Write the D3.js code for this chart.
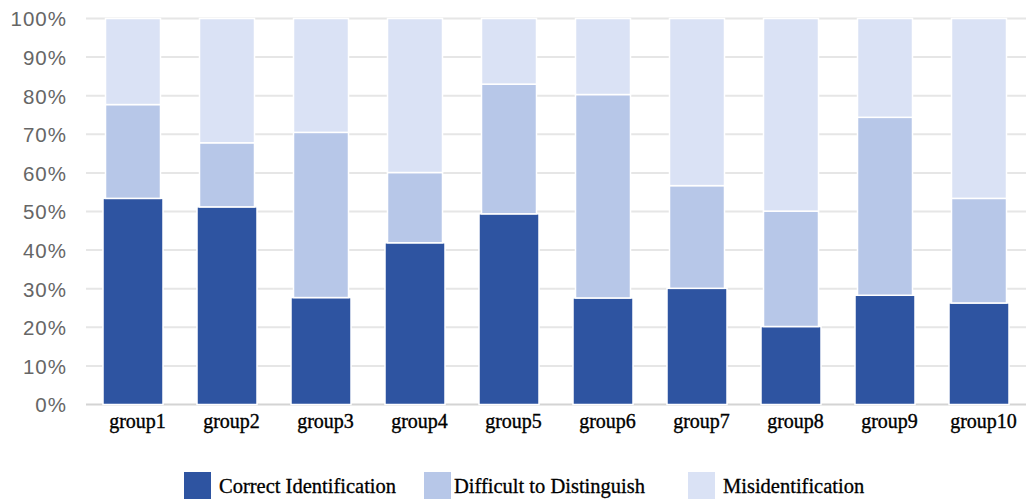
<!DOCTYPE html>
<html>
<head>
<meta charset="utf-8">
<script src="https://cdn.jsdelivr.net/npm/d3@7"></script>
<style>
  html, body { margin: 0; padding: 0; background: #fff; }
  svg { display: block; }
</style>
</head>
<body>
<svg id="chart" width="1026" height="500"></svg>
<script>
const categories = ["group1","group2","group3","group4","group5","group6","group7","group8","group9","group10"];
const seriesNames = ["Correct Identification","Difficult to Distinguish","Misidentification"];
const correct   = [53.4, 51.2, 27.7, 41.9, 49.4, 27.6, 30.1, 20.2, 28.3, 26.3];
const difficult = [24.3, 16.6, 42.8, 18.2, 33.6, 52.7, 26.6, 29.9, 46.1, 27.1];
const misid     = [22.3, 32.2, 29.5, 39.9, 17.0, 19.7, 43.3, 49.9, 25.6, 46.6];
const yTicks = [0, 10, 20, 30, 40, 50, 60, 70, 80, 90, 100];
const colors = ["#2e54a1", "#b7c7e8", "#dae2f5"];

const svg = d3.select("#chart");
const rows = categories.map((c, i) => ({ cat: c, "Correct Identification": correct[i], "Difficult to Distinguish": difficult[i], "Misidentification": misid[i] }));
const stacked = d3.stack().keys(seriesNames)(rows);

const x = d3.scaleBand().domain(categories).range([86, 1026]).paddingInner(0.415).paddingOuter(0.2075);
const y = d3.scaleLinear().domain([0, 100]).range([404.5, 18.5]);

// gridlines
svg.append("g").selectAll("line").data(yTicks).join("line")
  .attr("x1", 86).attr("x2", 1026)
  .attr("y1", d => y(d)).attr("y2", d => y(d))
  .attr("stroke", d => d === 0 ? "#d4d4d4" : "#e6e6e6")
  .attr("stroke-width", 2);

// y axis labels
const yAxis = d3.axisLeft(y).tickValues(yTicks).tickFormat(d => d + "%").tickSize(0).tickPadding(0);
const yg = svg.append("g").attr("transform", "translate(67,0)").call(yAxis);
yg.select(".domain").remove();
yg.selectAll("text").attr("font-family", "Liberation Sans, Arial, sans-serif").attr("font-size", 20.5)
  .attr("letter-spacing", "1px").attr("fill", "#666").attr("dy", "0.36em");

// bars
const layers = svg.append("g").selectAll("g").data(stacked).join("g")
  .attr("fill", (d, i) => colors[i]);
layers.selectAll("rect").data((d, li) => d.map(v => ({ v, li }))).join("rect")
  .attr("x", d => x(d.v.data.cat) - (d.li === 0 ? 2.5 : 0))
  .attr("width", d => x.bandwidth() + (d.li === 0 ? 5 : 0))
  .attr("y", d => y(d.v[1]))
  .attr("height", d => y(d.v[0]) - y(d.v[1]))
  .attr("stroke", "#fff")
  .attr("stroke-width", 1.5);

// x axis labels
const xAxis = d3.axisBottom(x).tickSize(0).tickPadding(0);
const xg = svg.append("g").attr("transform", "translate(0,428)").call(xAxis);
xg.select(".domain").remove();
xg.selectAll("text").attr("font-family", "Liberation Serif, Times New Roman, serif").attr("font-size", 20)
  .attr("fill", "#000").attr("stroke", "#000").attr("stroke-width", 0.35).attr("dx", 4.5).attr("dy", 0);

// legend
const legendSquareX = [184, 424, 688];
const legendTextX = [219, 454, 723];
const legend = svg.append("g");
seriesNames.forEach((name, i) => {
  legend.append("rect").attr("x", legendSquareX[i]).attr("y", 472).attr("width", 27).attr("height", 27).attr("fill", colors[i]);
  legend.append("text").attr("x", legendTextX[i]).attr("y", 493)
    .attr("font-family", "Liberation Serif, Times New Roman, serif").attr("font-size", 20.5)
    .attr("fill", "#000").attr("stroke", "#000").attr("stroke-width", 0.3).text(name);
});
</script>
</body>
</html>
